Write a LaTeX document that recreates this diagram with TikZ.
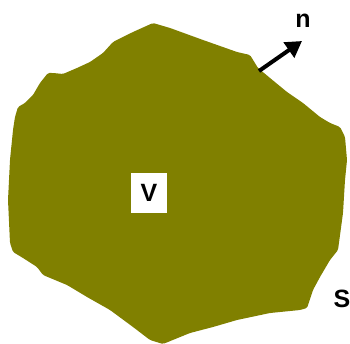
\documentclass[tikz,border=0pt]{standalone}
\usepackage{fontspec}
\setmainfont{Liberation Sans}
\usetikzlibrary{arrows.meta}
\definecolor{olivebody}{RGB}{128,128,0}
\tikzset{
  body/.style={fill=olivebody, draw=none, rounded corners=1.5pt},
  lbl/.style={font=\bfseries\fontsize{25}{25}\selectfont, text=black, inner sep=0pt},
  vbox/.style={fill=white, draw=none, minimum width=36pt, minimum height=40pt, inner sep=0pt, font=\bfseries\fontsize{25}{25}\selectfont},
  normalarrow/.style={line width=4pt, -{Triangle[length=16pt,width=18pt]}}
}
\begin{document}
\begin{tikzpicture}[x=1pt,y=-1pt]
\useasboundingbox (0,0) rectangle (350,344);
\fill[body] (153,23) -- (170,28) -- (203,40) -- (237,52) -- (250,55) -- (258,68) -- (270,78)
  -- (287,92) -- (303,103) -- (320,117) -- (330,123) -- (340,127) -- (345,137) -- (347,160)
  -- (345,180) -- (343,213) -- (338,250) -- (330,260) -- (320,277) -- (313,290) -- (307,308)
  -- (300,310) -- (270,313) -- (237,320) -- (213,327) -- (190,333) -- (163,344) -- (150,340)
  -- (133,327) -- (110,310) -- (87,297) -- (67,285) -- (43,275) -- (37,267) -- (23,258)
  -- (13,252) -- (10,243) -- (8,200) -- (10,160) -- (13,130) -- (15,117) -- (18,107)
  -- (25,103) -- (33,95) -- (40,83) -- (48,73) -- (53,73) -- (63,74) -- (77,68) -- (90,62)
  -- (103,53) -- (113,42) -- (133,32) -- cycle;
\node[vbox] (V) at (149,193) {V};
\coordinate (tail) at (259,71);
\coordinate (tip) at (302,41);
\draw[normalarrow] (tail) -- (tip);
\node[lbl] (n) at (303,21) {n};
\node[lbl] (S) at (342,299) {S};
\end{tikzpicture}
\end{document}
